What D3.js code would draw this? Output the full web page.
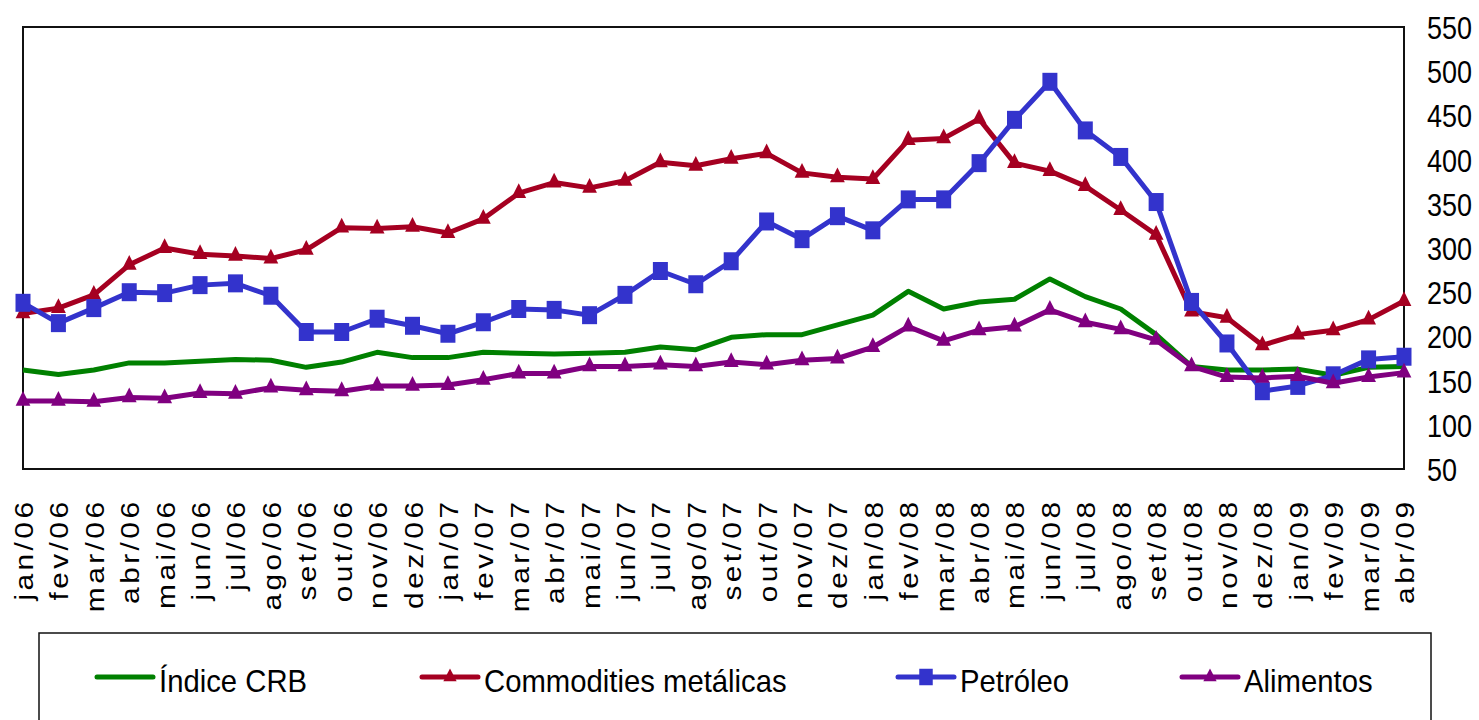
<!DOCTYPE html>
<html>
<head>
<meta charset="utf-8">
<script src="https://cdn.jsdelivr.net/npm/d3@7"></script>
<style>
  html, body { margin: 0; padding: 0; background: #fff; }
  svg { display: block; font-family: "Liberation Sans", Arial, sans-serif; }
</style>
</head>
<body>
<svg id="chart" width="1479" height="720"></svg>
<script>
const months = ["jan/06","fev/06","mar/06","abr/06","mai/06","jun/06","jul/06","ago/06","set/06","out/06","nov/06","dez/06",
  "jan/07","fev/07","mar/07","abr/07","mai/07","jun/07","jul/07","ago/07","set/07","out/07","nov/07","dez/07",
  "jan/08","fev/08","mar/08","abr/08","mai/08","jun/08","jul/08","ago/08","set/08","out/08","nov/08","dez/08",
  "jan/09","fev/09","mar/09","abr/09"];

const indiceCRB = [162,157,162,170,170,172,174,173,165,171,182,176,176,182,181,180,181,182,188,185,199,202,202,213,
  224,251,231,239,242,265,245,231,202,166,162,162,163,156,165,166];
const commodities = [226,232,247,281,300,293,291,288,298,323,322,324,317,333,362,374,368,376,397,393,401,407,385,380,
  378,422,424,446,396,387,370,343,315,228,221,190,202,207,219,240];
const petroleo = [238,215,232,250,249,258,260,246,205,205,220,212,203,216,231,230,224,247,274,259,285,330,310,336,
  320,355,355,396,445,488,433,403,352,239,192,138,144,156,174,177];
const alimentos = [127,127,126,131,130,136,135,142,139,138,144,144,145,151,158,158,166,166,168,166,171,168,173,175,
  188,211,195,207,211,230,216,208,196,166,154,153,155,147,154,159];

const yTicks = [50,100,150,200,250,300,350,400,450,500,550];

const seriesNames = ["Índice CRB","Commodities metálicas","Petróleo","Alimentos"];
const seriesColors = ["#008000","#A50021","#3333CC","#800080"];
const seriesMarkers = ["none","triangle","square","triangle"];
const seriesValues = [indiceCRB, commodities, petroleo, alimentos];

const svg = d3.select("#chart");
const plotLeft = 23, plotRight = 1404, plotTop = 27, plotBottom = 469;

const x = d3.scalePoint().domain(months).range([plotLeft, plotRight]);
const y = d3.scaleLinear().domain([50, 550]).range([plotBottom, plotTop]);

// frame
svg.append("rect")
  .attr("x", plotLeft).attr("y", plotTop)
  .attr("width", plotRight - plotLeft).attr("height", plotBottom - plotTop)
  .attr("fill", "none").attr("stroke", "#111").attr("stroke-width", 2);

function markerPath(type) {
  if (type === "triangle") return d3.symbol(d3.symbolTriangle, 95)();
  if (type === "square") return d3.symbol(d3.symbolSquare, 225)();
  return null;
}

const line = d3.line().x((d, i) => x(months[i])).y(d => y(d));

seriesValues.forEach((vals, s) => {
  const g = svg.append("g");
  g.append("path")
    .datum(vals)
    .attr("d", line)
    .attr("fill", "none")
    .attr("stroke", seriesColors[s])
    .attr("stroke-width", 5)
    .attr("stroke-linejoin", "round");
  const mp = markerPath(seriesMarkers[s]);
  if (mp) {
    g.selectAll("path.mk")
      .data(vals)
      .join("path")
      .attr("class", "mk")
      .attr("d", mp)
      .attr("fill", seriesColors[s])
      .attr("transform", (d, i) => `translate(${x(months[i])},${y(d)}) scale(1,${seriesMarkers[s] === "square" ? 1.2 : 1.15})`);
  }
});

// right axis
const yAxis = svg.append("g")
  .attr("transform", `translate(1427,0)`)
  .call(d3.axisRight(y).tickValues(yTicks).tickSize(0).tickPadding(0).tickFormat(d3.format("d")));
yAxis.select(".domain").remove();
yAxis.selectAll("text")
  .attr("x", null).attr("dy", null)
  .attr("text-anchor", "start")
  .attr("font-size", 27)
  .attr("fill", "#000")
  .attr("font-family", "'Liberation Sans', Arial, sans-serif")
  .attr("transform", "translate(0,11.5) scale(1,1.18)");

// bottom axis labels
const xAxis = svg.append("g")
  .attr("transform", `translate(0,502)`)
  .call(d3.axisBottom(x).tickSize(0));
xAxis.select(".domain").remove();
xAxis.selectAll("text")
  .attr("y", null).attr("dy", null)
  .attr("text-anchor", "end")
  .attr("font-size", 26)
  .attr("letter-spacing", 3)
  .attr("fill", "#000")
  .attr("font-family", "'Liberation Sans', Arial, sans-serif")
  .attr("transform", "translate(9.5,-3.5) rotate(-90) scale(1.15,1)");

// legend
svg.append("rect")
  .attr("x", 39).attr("y", 633)
  .attr("width", 1431 - 39).attr("height", 120)
  .attr("fill", "none").attr("stroke", "#111").attr("stroke-width", 1.5);

const legendX = [97, 422, 898, 1182];
const legendY = 677;
seriesNames.forEach((name, s) => {
  const g = svg.append("g").attr("transform", `translate(${legendX[s]},${legendY})`);
  g.append("line")
    .attr("x1", 0).attr("x2", 56).attr("y1", 0).attr("y2", 0)
    .attr("stroke", seriesColors[s]).attr("stroke-width", 5).attr("stroke-linecap", "round");
  const mp = markerPath(seriesMarkers[s]);
  if (mp) {
    g.append("path").attr("d", mp).attr("fill", seriesColors[s])
      .attr("transform", `translate(28,0) scale(0.9,${seriesMarkers[s] === "square" ? 1.1 : 1.0})`);
  }
  g.append("text")
    .attr("transform", "translate(62,15) scale(1.01,1.08)")
    .attr("font-size", 29)
    .attr("fill", "#000")
    .text(name);
});
</script>
</body>
</html>
